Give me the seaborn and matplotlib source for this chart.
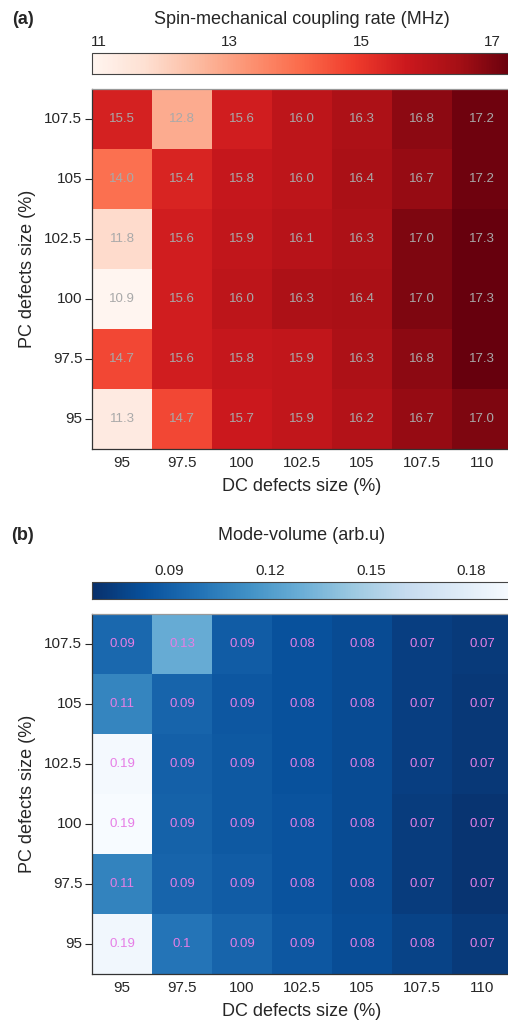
import numpy as np
import pandas as pd
import matplotlib
matplotlib.use("Agg")
import matplotlib.pyplot as plt
import seaborn as sns
from matplotlib.ticker import FixedLocator, MultipleLocator

# Axis categories (rows listed top to bottom as drawn)
dc_sizes = ["95", "97.5", "100", "102.5", "105", "107.5", "110"]
pc_sizes = ["107.5", "105", "102.5", "100", "97.5", "95"]

# (a) spin-mechanical coupling rate (MHz)
coupling_rate = [
    [15.5, 12.8, 15.6, 16.0, 16.3, 16.8, 17.2],
    [14.0, 15.4, 15.8, 16.0, 16.4, 16.7, 17.2],
    [11.8, 15.6, 15.9, 16.1, 16.3, 17.0, 17.3],
    [10.9, 15.6, 16.0, 16.3, 16.4, 17.0, 17.3],
    [14.7, 15.6, 15.8, 15.9, 16.3, 16.8, 17.3],
    [11.3, 14.7, 15.7, 15.9, 16.2, 16.7, 17.0],
]

# (b) mode volume (arb.u), shown rounded to 2 decimals
mode_volume = [
    [0.094, 0.128, 0.088, 0.083, 0.080, 0.074, 0.072],
    [0.108, 0.092, 0.086, 0.083, 0.080, 0.074, 0.071],
    [0.190, 0.090, 0.087, 0.083, 0.080, 0.074, 0.071],
    [0.192, 0.091, 0.087, 0.084, 0.080, 0.073, 0.069],
    [0.107, 0.092, 0.088, 0.084, 0.080, 0.073, 0.069],
    [0.188, 0.100, 0.092, 0.086, 0.081, 0.076, 0.072],
]

sns.set_style("ticks")
plt.rcParams["font.family"] = ["Liberation Sans", "DejaVu Sans"]

W, H = 508, 1024
fig = plt.figure(figsize=(W / 100, H / 100), dpi=100)


def rect(x0, y0, x1, y1):
    # pixel box (from top-left) -> figure fraction
    return [x0 / W, 1 - y1 / H, (x1 - x0) / W, (y1 - y0) / H]


def panel(data, cmap, vmin, vmax, annot, fmt, txt_color, heat_box, cbar_box,
          cbar_ticks, cbar_minor, cbar_fmt, title, title_y, letter):
    df = pd.DataFrame(data, index=pc_sizes, columns=dc_sizes)
    ax = fig.add_axes(rect(*heat_box))
    cax = fig.add_axes(rect(*cbar_box))
    sns.heatmap(df, ax=ax, cmap=cmap, vmin=vmin, vmax=vmax, annot=annot, fmt=fmt,
                annot_kws={"size": 9.5, "color": txt_color},
                cbar_ax=cax, cbar_kws={"orientation": "horizontal"})

    for s in ax.spines.values():
        s.set_visible(True)
        s.set_linewidth(0.9)
        s.set_color("#333333")
    ax.spines["top"].set_color("#999999")
    ax.spines["right"].set_color("#999999")

    ax.set_xticklabels(dc_sizes, rotation=0, fontsize=11)
    ax.set_yticklabels(pc_sizes, rotation=0, fontsize=11)
    ax.xaxis.set_minor_locator(FixedLocator(np.arange(0.1, len(dc_sizes), 0.2)))
    ax.yaxis.set_minor_locator(FixedLocator(np.arange(0.1, len(pc_sizes), 0.2)))
    ax.tick_params(axis="x", which="major", direction="in", length=4, width=0.8, pad=5)
    ax.tick_params(axis="x", which="minor", direction="in", length=2.5, width=0.7)
    ax.tick_params(axis="y", which="major", direction="out", length=5, width=0.8, pad=2)
    ax.tick_params(axis="y", which="minor", direction="in", length=2.5, width=0.7)
    ax.set_xlabel("DC defects size (%)", fontsize=13, labelpad=6)
    ax.set_ylabel("PC defects size (%)", fontsize=13, labelpad=6)

    cbar = ax.collections[0].colorbar
    cbar.outline.set_edgecolor("#444444")
    cbar.outline.set_linewidth(0.8)
    cax.xaxis.set_ticks_position("top")
    cax.xaxis.set_label_position("top")
    cbar.set_ticks(cbar_ticks)
    cbar.set_ticklabels([cbar_fmt.format(t) for t in cbar_ticks])
    cax.xaxis.set_minor_locator(MultipleLocator(cbar_minor))
    cax.tick_params(axis="x", which="major", direction="in", length=3.5, width=0.8,
                    labelsize=11, pad=3, color="#333333")
    cax.tick_params(axis="x", which="minor", direction="in", length=2, width=0.7,
                    color="#333333")

    fig.text((cbar_box[0] + cbar_box[2]) / 2 / W, 1 - title_y / H, title,
             ha="center", va="center", fontsize=13)
    fig.text(23 / W, 1 - title_y / H, letter, ha="center", va="center",
             fontsize=13, fontweight="bold")


# (a)
panel(coupling_rate, "Reds", 10.9, 17.3, True, ".1f", "#a9a9a9",
      (92, 89, 512, 449), (92, 53, 512, 74),
      [11, 13, 15, 17], 0.5, "{:.0f}",
      "Spin-mechanical coupling rate (MHz)", 19, "(a)")

# (b) labels: 2 decimals, trailing zeros dropped
mv_labels = np.array([[f"{v:.2f}".rstrip("0") for v in row] for row in mode_volume])
panel(mode_volume, "Blues_r", 0.067, 0.192, mv_labels, "", "#e67ee6",
      (92, 614, 512, 974), (92, 582, 512, 599),
      [0.09, 0.12, 0.15, 0.18], 0.01, "{:.2f}",
      "Mode-volume (arb.u)", 536, "(b)")

fig.savefig("out.png", dpi=100)
